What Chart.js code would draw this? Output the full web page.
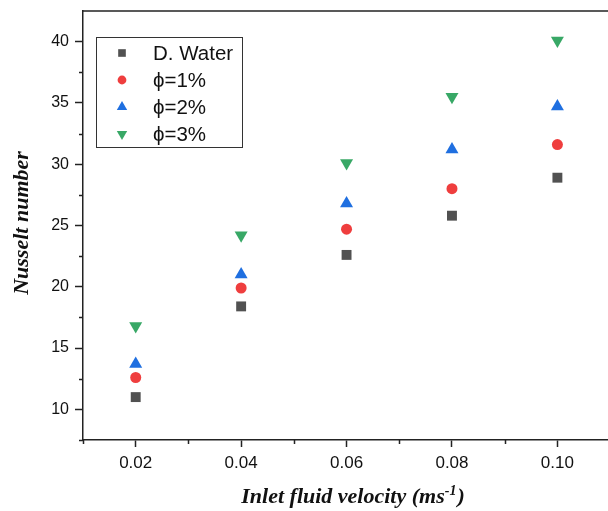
<!DOCTYPE html>
<html>
<head>
<meta charset="utf-8">
<script src="https://cdn.jsdelivr.net/npm/chart.js@4/dist/chart.umd.min.js"></script>
<style>
  html, body { margin: 0; padding: 0; background: #fff; }
  #wrap { width: 608px; height: 511px; }
</style>
</head>
<body>
<div id="wrap"><canvas id="chart" width="608" height="511"></canvas></div>
<script>
// values
const velocity = [0.02, 0.04, 0.06, 0.08, 0.10];
const nuWater = [11.0, 18.4, 22.6, 25.8, 28.9];
const nuPhi1 = [12.6, 19.9, 24.7, 28.0, 31.6];
const nuPhi2 = [13.7, 21.0, 26.8, 31.2, 34.7];
const nuPhi3 = [16.8, 24.2, 30.1, 35.5, 40.1];

const seriesLabels = ["D. Water", "\u03D5=1%", "\u03D5=2%", "\u03D5=3%"];
const xTicks = [0.02, 0.04, 0.06, 0.08, 0.10];
const xMinorTicks = [0.01, 0.03, 0.05, 0.07, 0.09];
const yTicks = [10, 15, 20, 25, 30, 35, 40];
const yMinorTicks = [7.5, 12.5, 17.5, 22.5, 27.5, 32.5, 37.5];

const axisColor = "#222";
const sansFont = '"Liberation Sans", Arial, sans-serif';
const serifFont = '"Liberation Serif", "Times New Roman", serif';

const toPoints = (ys) => velocity.map((v, i) => ({ x: v, y: ys[i] }));

const series = [
  { data: nuWater, color: "#515151", style: "rect", radius: 7, rot: 0, legendRadius: 5.4 },
  { data: nuPhi1, color: "#ef3e3e", style: "circle", radius: 5.5, rot: 0, legendRadius: 4.4 },
  { data: nuPhi2, color: "#1f6fe0", style: "triangle", radius: 7.5, rot: 0, legendRadius: 6 },
  { data: nuPhi3, color: "#38a866", style: "triangle", radius: 7.5, rot: 180, legendRadius: 6 },
];

// frame line, minor ticks, axis titles and the boxed legend
const extras = {
  id: "extras",
  afterDraw(chart) {
    const { ctx, chartArea, scales } = chart;
    const xs = scales.x, ys = scales.y;
    ctx.save();

    ctx.strokeStyle = axisColor;
    ctx.lineWidth = 1.5;
    ctx.beginPath();
    ctx.moveTo(chartArea.left, chartArea.top);
    ctx.lineTo(chartArea.right, chartArea.top);
    ctx.stroke();

    ctx.beginPath();
    xMinorTicks.forEach((v) => {
      const px = Math.round(xs.getPixelForValue(v)) + 0.5;
      ctx.moveTo(px, chartArea.bottom);
      ctx.lineTo(px, chartArea.bottom + 4);
    });
    yMinorTicks.forEach((v) => {
      const py = Math.round(ys.getPixelForValue(v)) + 0.5;
      ctx.moveTo(chartArea.left, py);
      ctx.lineTo(chartArea.left - 4, py);
    });
    ctx.stroke();

    // y title
    ctx.fillStyle = "#111";
    ctx.font = "bold italic 22px " + serifFont;
    ctx.textAlign = "center";
    ctx.textBaseline = "middle";
    ctx.save();
    ctx.translate(22, 223);
    ctx.rotate(-Math.PI / 2);
    ctx.fillText("Nusselt number", 0, 0);
    ctx.restore();

    // x title with superscript
    const mainText = "Inlet fluid velocity (ms";
    const supText = "-1";
    const endText = ")";
    const mainFont = "bold italic 22px " + serifFont;
    const supFont = "bold italic 14px " + serifFont;
    ctx.font = mainFont;
    const w1 = ctx.measureText(mainText).width;
    const w3 = ctx.measureText(endText).width;
    ctx.font = supFont;
    const w2 = ctx.measureText(supText).width;
    let tx = 353 - (w1 + w2 + w3 + 1) / 2;
    const base = 503;
    ctx.textAlign = "left";
    ctx.textBaseline = "alphabetic";
    ctx.font = mainFont;
    ctx.fillText(mainText, tx, base);
    tx += w1;
    ctx.font = supFont;
    ctx.fillText(supText, tx, base - 8);
    tx += w2 + 1;
    ctx.font = mainFont;
    ctx.fillText(endText, tx, base);

    // legend box
    ctx.strokeStyle = "#333";
    ctx.lineWidth = 1;
    ctx.strokeRect(96.5, 37.5, 146, 110);
    ctx.font = "20.5px " + sansFont;
    ctx.textBaseline = "middle";
    chart.data.datasets.forEach((ds, i) => {
      const y = 53 + i * 27;
      ctx.fillStyle = ds.backgroundColor;
      Chart.helpers.drawPoint(ctx, {
        pointStyle: ds.pointStyle,
        radius: series[i].legendRadius,
        rotation: ds.rotation,
        borderWidth: 0,
      }, 122, y);
      ctx.fillStyle = "#111";
      ctx.fillText(ds.label, 153, y + 1);
    });

    ctx.restore();
  },
};

new Chart(document.getElementById("chart").getContext("2d"), {
  type: "scatter",
  data: {
    datasets: series.map((s, i) => ({
      label: seriesLabels[i],
      data: toPoints(s.data),
      pointStyle: s.style,
      pointRadius: s.radius,
      rotation: s.rot,
      backgroundColor: s.color,
      borderColor: s.color,
      pointBorderWidth: 0,
      showLine: false,
    })),
  },
  options: {
    responsive: false,
    animation: false,
    devicePixelRatio: 1,
    layout: { autoPadding: false, padding: { top: 11, left: 0, right: 0, bottom: 0 } },
    plugins: { legend: { display: false }, tooltip: { enabled: false } },
    scales: {
      x: {
        type: "linear",
        min: 0.01,
        max: 0.1096,
        afterBuildTicks: (scale) => { scale.ticks = xTicks.map((v) => ({ value: v })); },
        afterFit: (scale) => {
          scale.height = 71;
          scale.paddingLeft = 0;
          scale.paddingRight = 0;
        },
        ticks: {
          callback: (v) => v.toFixed(2),
          font: { family: sansFont, size: 17 },
          color: "#111",
          padding: 6,
          maxRotation: 0,
          autoSkip: false,
        },
        grid: { drawOnChartArea: false, tickLength: 7, tickColor: axisColor, tickWidth: 1.5 },
        border: { color: axisColor, width: 1.5 },
      },
      y: {
        type: "linear",
        min: 7.5,
        max: 42.5,
        afterBuildTicks: (scale) => { scale.ticks = yTicks.map((v) => ({ value: v })); },
        afterFit: (scale) => {
          scale.width = 83;
          scale.paddingTop = 0;
          scale.paddingBottom = 0;
        },
        ticks: {
          callback: (v) => String(v),
          font: { family: sansFont, size: 16 },
          color: "#111",
          padding: 6,
          autoSkip: false,
        },
        grid: { drawOnChartArea: false, tickLength: 8, tickColor: axisColor, tickWidth: 1.5 },
        border: { color: axisColor, width: 1.5 },
      },
    },
  },
  plugins: [extras],
});
</script>
</body>
</html>
